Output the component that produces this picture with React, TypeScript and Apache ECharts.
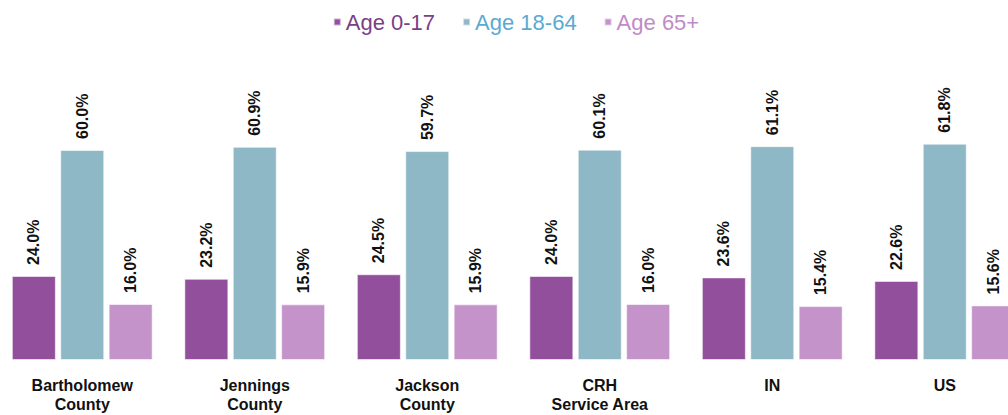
import React, { useEffect, useRef } from "react";
import * as echarts from "echarts";

const categories = [
  "Bartholomew\nCounty",
  "Jennings\nCounty",
  "Jackson\nCounty",
  "CRH\nService Area",
  "IN",
  "US",
];
const seriesNames = ["Age 0-17", "Age 18-64", "Age 65+"];
const age0to17 = [24.0, 23.2, 24.5, 24.0, 23.6, 22.6];
const age18to64 = [60.0, 60.9, 59.7, 60.1, 61.1, 61.8];
const age65plus = [16.0, 15.9, 15.9, 16.0, 15.4, 15.6];
const barColors = ["#924F9C", "#8FB8C7", "#C393CA"];
const legendColors = ["#7B3F86", "#5BAAD0", "#C08BC8"];

const FONT = "'Liberation Sans', Arial, sans-serif";

export default function App() {
  const ref = useRef<HTMLDivElement>(null);
  useEffect(() => {
    if (!ref.current) return;
    const chart = echarts.init(ref.current, undefined, { renderer: "svg" });
    const values = [age0to17, age18to64, age65plus];
    chart.setOption({
      animation: false,
      legend: {
        top: 6,
        left: "center",
        icon: "rect",
        itemWidth: 7,
        itemHeight: 7,
        itemGap: 27,
        data: seriesNames.map((n, i) => ({
          name: n,
          textStyle: {
            color: legendColors[i],
            fontSize: 22,
            fontFamily: FONT,
          },
        })),
      },
      grid: { left: 0, right: 5, top: 80, bottom: 55, containLabel: false },
      xAxis: {
        type: "category",
        data: categories,
        axisLine: { show: false },
        axisTick: { show: false },
        axisLabel: {
          color: "#111",
          fontWeight: "bold",
          fontSize: 16,
          lineHeight: 19,
          margin: 16,
          fontFamily: FONT,
          interval: 0,
        },
      },
      yAxis: {
        type: "value",
        min: 0,
        max: 80,
        show: false,
        splitLine: { show: false },
      },
      series: seriesNames.map((n, i) => ({
        name: n,
        type: "bar",
        data: values[i],
        barWidth: 44,
        barGap: "10%",
        itemStyle: {
          color: barColors[i],
          borderColor: "rgba(255,255,255,0.55)",
          borderWidth: 1,
        },
        label: {
          show: true,
          position: "top",
          rotate: 90,
          align: "left",
          verticalAlign: "middle",
          distance: 11,
          formatter: (p: any) => p.value.toFixed(1) + "%",
          color: "#111",
          fontWeight: "bold",
          fontSize: 16,
          fontFamily: FONT,
        },
      })),
    });
    return () => chart.dispose();
  }, []);
  return (
    <div
      style={{
        position: "fixed",
        left: 0,
        top: 0,
        width: 1008,
        height: 415,
        overflow: "hidden",
        background: "#fff",
      }}
    >
      <div ref={ref} style={{ width: 1040, height: 415, marginLeft: -4 }} />
    </div>
  );
}
